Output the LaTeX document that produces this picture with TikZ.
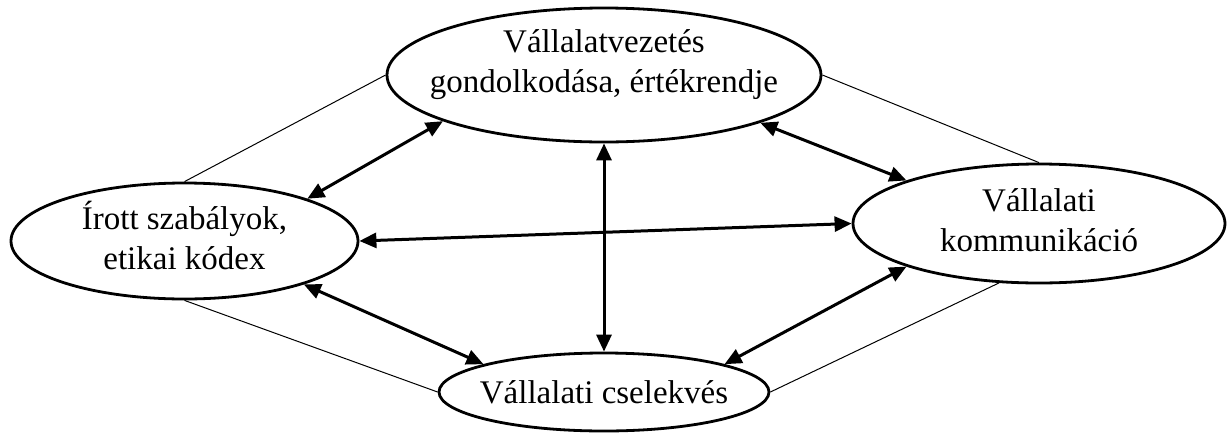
\documentclass[tikz,border=0pt]{standalone}
\usepackage{fontspec}
\setmainfont{Liberation Serif}
\usetikzlibrary{shapes.geometric,arrows.meta}
\newcommand{\twoline}[2]{\makebox[0pt]{\begin{tabular}{@{}c@{}}#1\\#2\end{tabular}}}
\begin{document}
\begin{tikzpicture}[x=1pt,y=-1pt,
  box/.style={ellipse, draw, line width=2.8pt, inner sep=0pt, fill=white,
              font=\fontsize{33}{40}\selectfont},
  tie/.style={line width=1pt},
  duplex/.style={line width=3pt,
     {Triangle[length=17pt,width=15pt]}-{Triangle[length=17pt,width=15pt]}}]
\useasboundingbox (0,0) rectangle (1227,437);
\node[box, minimum width=434pt, minimum height=134pt] (T) at (604,75)
  {\raisebox{4pt}[0pt][0pt]{\twoline{Vállalatvezetés}{gondolkodása, értékrendje}}};
\node[box, minimum width=347pt, minimum height=116pt] (L) at (184.5,241)
  {\twoline{Írott szabályok,}{etikai kódex}};
\node[box, minimum width=372pt, minimum height=119pt] (R) at (1039,223.5)
  {\twoline{Vállalati}{kommunikáció}};
\node[box, minimum width=330pt, minimum height=78pt] (B) at (604,392)
  {\makebox[0pt]{Vállalati cselekvés}};
% thin links
\draw[tie] (T.west) -- (L.north);
\draw[tie] (T.east) -- (R.north);
\draw[tie] (L.south) -- (B.west);
\draw[tie] (R.236) -- (B.east);
% double arrows
\draw[duplex] (T.196.6) -- (L.19.1);
\draw[duplex] (T.343.8) -- (R.162.5);
\draw[duplex] (T.south) -- (B.north);
\draw[duplex] (L.east) -- (R.west);
\draw[duplex] (L.340.9) -- (B.167.2);
\draw[duplex] (R.198.4) -- (B.13.8);
\end{tikzpicture}
\end{document}
